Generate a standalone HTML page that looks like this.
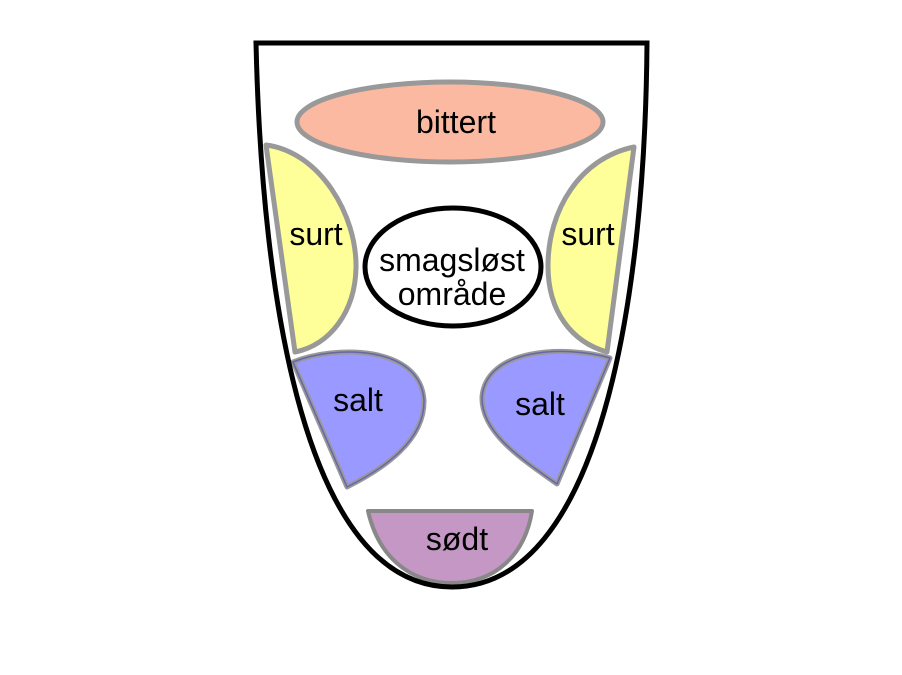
<!DOCTYPE html>
<html><head><meta charset="utf-8"><style>
html,body{margin:0;padding:0;background:#fff;}
svg text{font-family:"Liberation Sans",sans-serif;font-size:32px;fill:#000;text-anchor:middle;}
</style></head><body>
<svg width="902" height="670" viewBox="0 0 902 670" xmlns="http://www.w3.org/2000/svg">
<rect width="902" height="670" fill="#fff"/>
<ellipse cx="450" cy="122" rx="153" ry="40" fill="#fbb9a2" stroke="#999" stroke-width="5"/>
<g stroke-linejoin="round">
<path d="M266,145 C320,152 357,215 356,268 C355,312 330,345 295,352 Z" fill="#ffff99" stroke="#999" stroke-width="5"/>
<path d="M634,147 L607,352 C572,342 548,312 548,266 C548,210 580,158 634,147 Z" fill="#ffff99" stroke="#999" stroke-width="5"/>
<path d="M293,362 C335,345 420,345 424,400 C425,440 385,468 347,487 Z" fill="#9999ff" stroke="#999" stroke-width="5"/>
<path d="M610,358 C565,345 486,348 482,397 C481,432 520,458 557,484 Z" fill="#9999ff" stroke="#999" stroke-width="5"/>
<path d="M293,362 C335,345 420,345 424,400 C425,440 385,468 347,487 Z" fill="none" stroke="#6666aa" stroke-width="1.5"/>
<path d="M610,358 C565,345 486,348 482,397 C481,432 520,458 557,484 Z" fill="none" stroke="#6666aa" stroke-width="1.5"/>
<path d="M368,511 L532,511 C525,555 495,583 452,583 C408,583 378,555 368,511 Z" fill="#c497c4" stroke="#888" stroke-width="4"/>
</g>
<ellipse cx="453" cy="267" rx="88" ry="59" fill="#fff" stroke="#000" stroke-width="5"/>
<path d="M256,43 L647,43 C645,300 600,587 452,587 C305,587 262,300 256,43 Z" fill="none" stroke="#000" stroke-width="5" stroke-linejoin="miter"/>
<text x="456" y="133">bittert</text>
<text x="316" y="245">surt</text>
<text x="588" y="245">surt</text>
<text x="452" y="271">smagsløst</text>
<text x="452" y="305">område</text>
<text x="358" y="411">salt</text>
<text x="540" y="415">salt</text>
<text x="457" y="550">sødt</text>
</svg>
</body></html>
